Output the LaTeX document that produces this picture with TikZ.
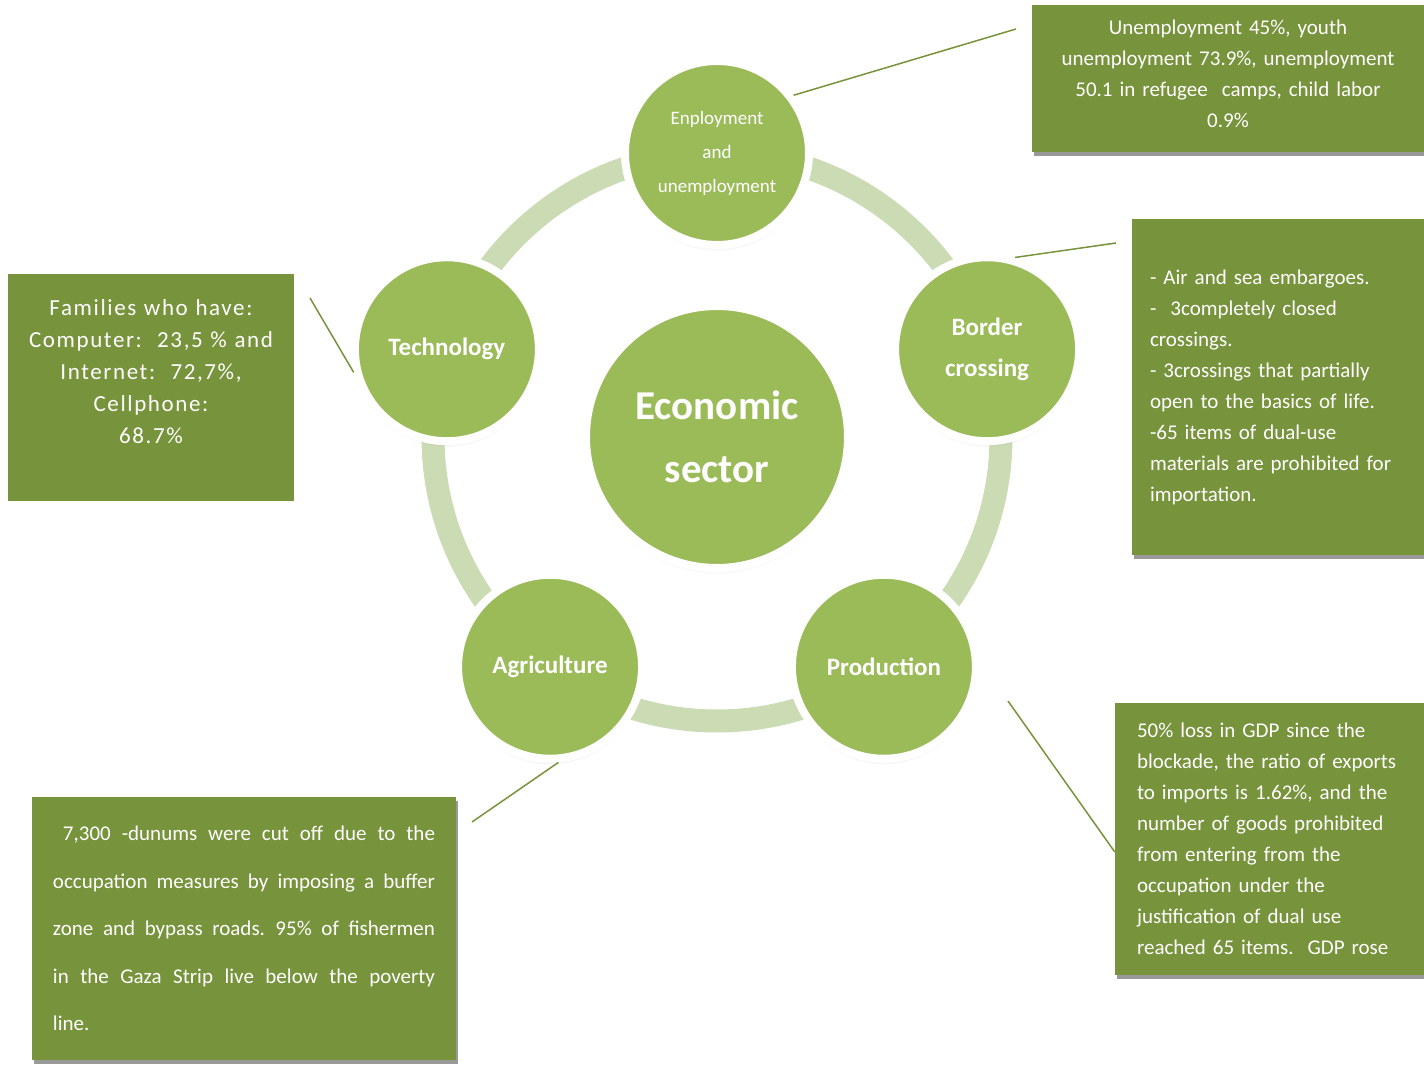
\documentclass[tikz,border=0pt]{standalone}
\usepackage{fontspec}
\setmainfont{Carlito}
\newfontfamily\spacedfont[LetterSpace=7]{Carlito}
\usepackage{tikz}
\usetikzlibrary{shadows, positioning}
\definecolor{circgreen}{HTML}{9BBB59}
\definecolor{boxgreen}{HTML}{77933C}
\definecolor{ringgreen}{HTML}{CBDBB3}
\definecolor{linegreen}{HTML}{77933C}
\newcommand{\agrline}[1]{\leavevmode\hbox to 382pt{\spaceskip=0.25em plus 1em\relax #1}}
\hyphenpenalty=10000

\begin{document}
\begin{tikzpicture}[x=1pt,y=1pt,
	hub/.style={circle, fill=circgreen, draw=white, line width=8pt, minimum size=262pt, inner sep=0pt, text=white, text width=210pt, align=center, font=\bfseries\fontsize{41}{63}\selectfont, circular drop shadow={shadow xshift=0pt, shadow yshift=-6pt, shadow scale=1.0, opacity=0.4}},
	sector/.style={hub, minimum size=184pt, text width=140pt, font=\bfseries\fontsize{25}{41}\selectfont},
	plainbox/.style={rectangle, fill=boxgreen, text=white, inner sep=0pt, font=\fontsize{21}{31}\selectfont},
	shadowbox/.style={plainbox, drop shadow={shadow xshift=2pt, shadow yshift=-4pt, fill=black!40, opacity=1}},
	boxtext/.style={text=white, inner sep=0pt, font=\fontsize{21}{31}\selectfont},
	leader/.style={draw=linegreen, line width=1.5pt},
	ring/.style={draw=ringgreen, line width=23pt}]

	      \useasboundingbox (-717,-628) rectangle (707,437);

	      \node[hub] (econ) at (0,0) {Economic\\sector};
	      \draw[ring] (econ.center) circle (284);

	      \node[sector, font=\fontsize{19}{34}\selectfont] (emp) at (90:284) {Enployment\\and\\unemployment};
	      \node[sector] (border) at (18:284) {Border\\crossing};
	      \node[sector] (prod) at (-54:284) {Production};
	      \node[sector] (agri) at (234:284) {Agriculture};
	      \node[sector] (tech) at (162:284) {Technology};

	      \node[shadowbox, minimum width=392pt, minimum height=147pt] (boxU) at (511,358.5) {};
	      \node[boxtext, text width=380pt, align=center] (unempinfo) at ([yshift=5pt]boxU.center)
	            {Unemployment 45\%, youth\\unemployment 73.9\%, unemployment\\50.1 in refugee\ \ camps, child labor\\0.9\%};
	      \node[shadowbox, minimum width=292pt, minimum height=336pt, text width=256pt, align=left] (boxB) at (561,50)
	            {- Air and sea embargoes.\\-\ \ 3completely closed\\crossings.\\- 3crossings that partially\\open to the basics of life.\\-65 items of dual-use\\materials are prohibited for\\importation.};
	      \node[shadowbox, minimum width=309pt, minimum height=272pt, text width=265pt, align=left] (boxP) at (552.5,-402)
	            {50\% loss in GDP since the\\blockade, the ratio of exports\\to imports is 1.62\%, and the\\number of goods prohibited\\from entering from the\\occupation under the\\justification of dual use\\reached 65 items.\ \ GDP rose};
	      \node[shadowbox, minimum width=424pt, minimum height=263pt, text width=382pt, align=left, font=\fontsize{21}{47.5}\selectfont] (boxA) at (-473,-491.5)
	            {\agrline{\hspace*{10pt}7,300 -dunums were cut off due to the}\\\agrline{occupation measures by imposing a buffer}\\\agrline{zone and bypass roads. 95\% of fishermen}\\\agrline{in the Gaza Strip live below the poverty}\\line.};
	      \node[plainbox, minimum width=286pt, minimum height=227pt] (boxT) at (-566,49.5) {};
	      \node[boxtext, text width=270pt, align=center, font=\spacedfont\fontsize{23}{32}\selectfont] (techinfo) at ([yshift=16pt]boxT.center)
	            {Families who have:\\Computer:\ \ 23,5 \% and\\Internet:\ \ 72,7\%,\\Cellphone:\\68.7\%};

	      \coordinate (cU) at (299,408);
	      \coordinate (cB) at (399,194);
	      \coordinate (cT) at (-407,139);
	      \coordinate (cA) at (-245,-385);
	      \coordinate (cP) at (291,-264);
	      \coordinate (cPend) at ([yshift=-13pt]boxP.west);

	      \path[leader]
	      (emp.37) edge (cU)
	      (border.73) edge (cB)
	      (tech.194) edge (cT)
	      (agri.275) edge (cA)
	      (cP) edge (cPend)
	      ;
\end{tikzpicture}
\end{document}
